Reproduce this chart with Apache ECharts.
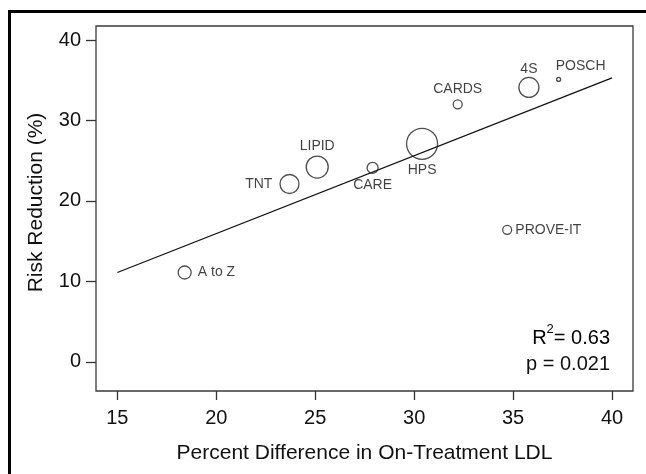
<!DOCTYPE html>
<html>
<head>
<meta charset="utf-8">
<script src="https://cdn.jsdelivr.net/npm/echarts@6/dist/echarts.min.js"></script>
<style>
html,body{margin:0;padding:0;background:#fff;}
#chart{width:646px;height:474px;}
</style>
</head>
<body>
<div id="chart"></div>
<script>
// ---- data ----
const trials = ['A to Z', 'TNT', 'LIPID', 'CARE', 'HPS', 'CARDS', '4S', 'POSCH', 'PROVE-IT'];
const ldlDiff = [18.4, 23.7, 25.1, 27.9, 30.4, 32.2, 35.8, 37.3, 34.7];
const riskReduction = [11.1, 22.1, 24.2, 24.1, 27.1, 32.0, 34.1, 35.1, 16.4];
const trialWeight = [13, 19, 22, 11, 31, 9, 20, 4, 9];
const fitX = [15, 40];
const fitY = [11.1, 35.3];
const xTicks = [15, 20, 25, 30, 35, 40];
const yTicks = [0, 10, 20, 30, 40];
const statsLines = ['0.63', '0.021'];

// ---- styles ----
const FONT = 'Liberation Sans, Arial, Helvetica, sans-serif';
const labelPlacement = {
  'A to Z':  { position: 'right',  distance: 6 },
  'TNT':     { position: 'left',   distance: 7 },
  'LIPID':   { position: 'top',    distance: 2 },
  'CARE':    { position: 'bottom', distance: 4 },
  'HPS':     { position: 'bottom', distance: 3 },
  'CARDS':   { position: 'top',    distance: 3 },
  '4S':      { position: 'top',    distance: 1 },
  'POSCH':   { position: 'top',    distance: 4, offset: [22, 0] },
  'PROVE-IT':{ position: 'right',  distance: 3 }
};

const points = trials.map((name, i) => ({
  name: name,
  value: [ldlDiff[i], riskReduction[i], trialWeight[i]],
  label: Object.assign({ show: true, formatter: '{b}' }, labelPlacement[name])
}));

const chart = echarts.init(document.getElementById('chart'), null, { renderer: 'canvas' });
chart.setOption({
  backgroundColor: '#fff',
  animation: false,
  grid: {
    left: 96, top: 26, right: 13, bottom: 83,
    show: true, borderColor: '#3a3a3a', borderWidth: 1.3, backgroundColor: 'transparent'
  },
  xAxis: {
    type: 'value',
    min: 13.92, max: 41.06,
    name: 'Percent Difference in On-Treatment LDL',
    nameLocation: 'middle', nameGap: 52,
    nameTextStyle: { fontFamily: FONT, fontSize: 21, color: '#111' },
    axisLine: { show: false, onZero: false },
    splitLine: { show: false },
    axisTick: { show: true, length: 9, lineStyle: { color: '#333', width: 1.3 }, customValues: xTicks },
    axisLabel: { margin: 17, fontFamily: FONT, fontSize: 20, color: '#111', customValues: xTicks }
  },
  yAxis: {
    type: 'value',
    min: -3.63, max: 41.74,
    name: 'Risk Reduction (%)',
    nameLocation: 'middle', nameGap: 49, nameRotate: 90,
    nameTextStyle: { fontFamily: FONT, fontSize: 21, color: '#111', padding: [0, 0, 0, 12] },
    axisLine: { show: false, onZero: false },
    splitLine: { show: false },
    axisTick: { show: true, length: 10, lineStyle: { color: '#333', width: 1.3 }, customValues: yTicks },
    axisLabel: { margin: 15, fontFamily: FONT, fontSize: 20, color: '#111', customValues: yTicks }
  },
  series: [
    {
      type: 'line',
      data: fitX.map((x, i) => [x, fitY[i]]),
      showSymbol: false,
      symbol: 'none',
      lineStyle: { color: '#111', width: 1.3 },
      silent: true,
      z: 2
    },
    {
      type: 'scatter',
      data: points,
      symbol: 'circle',
      symbolSize: v => v[2],
      itemStyle: { color: 'rgba(255,255,255,0)', borderColor: '#222', borderWidth: 1.3 },
      label: { fontFamily: FONT, fontSize: 14, color: '#111' },
      z: 3
    }
  ],
  graphic: [
    {
      type: 'rect',
      shape: { x: 9.5, y: 11.5, width: 700, height: 600 },
      style: { fill: 'none', stroke: '#000', lineWidth: 3 },
      silent: true
    },
    {
      type: 'text',
      x: 610, y: 338,
      style: {
        text: '{r|R}{s|2}{r|= ' + statsLines[0] + '}',
        align: 'right', verticalAlign: 'middle',
        rich: {
          r: { fontFamily: FONT, fontSize: 20, color: '#111', lineHeight: 30 },
          s: { fontFamily: FONT, fontSize: 13, color: '#111', lineHeight: 13, verticalAlign: 'top' }
        }
      }
    },
    {
      type: 'text',
      x: 610, y: 364,
      style: {
        text: 'p = ' + statsLines[1],
        align: 'right', verticalAlign: 'middle',
        fontFamily: FONT, fontSize: 20, fill: '#111'
      }
    }
  ]
});
</script>
</body>
</html>
